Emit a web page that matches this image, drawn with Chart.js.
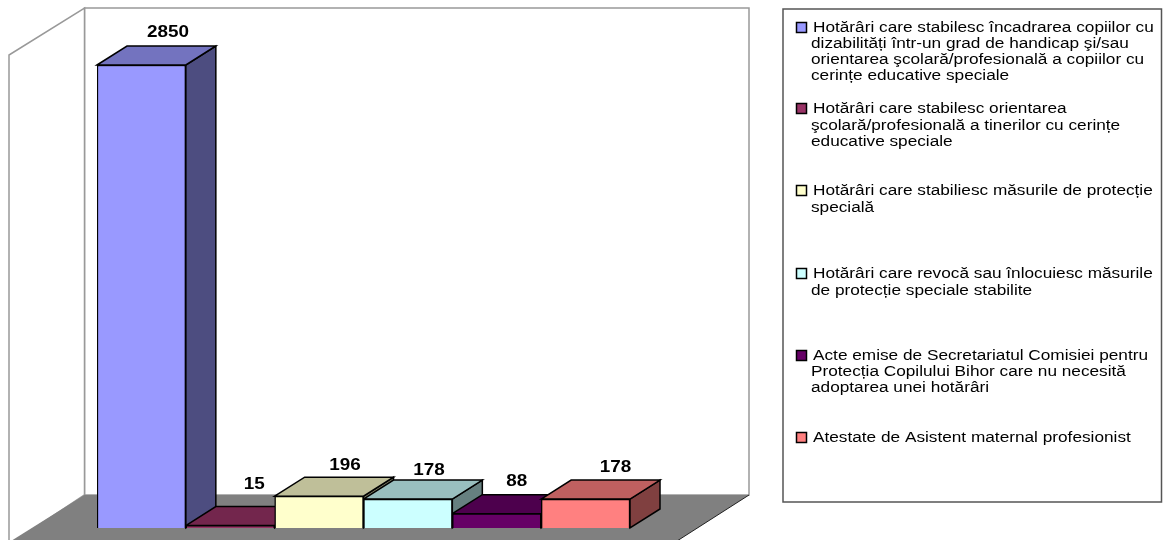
<!DOCTYPE html>
<html><head><meta charset="utf-8">
<style>html,body{margin:0;padding:0;background:#fff}#w{position:relative;width:1166px;height:540px}canvas{display:block}</style>
<script src="https://cdn.jsdelivr.net/npm/chart.js@4"></script>
</head><body><div id="w"><canvas id="c" width="1166" height="540"></canvas></div>
<script>
const categories = [
 ["Hotărâri care stabilesc încadrarea copiilor cu","dizabilități într-un grad de handicap şi/sau","orientarea şcolară/profesională a copiilor cu","cerințe educative speciale"],
 ["Hotărâri care stabilesc orientarea","şcolară/profesională a tinerilor cu cerințe","educative speciale"],
 ["Hotărâri care stabiliesc măsurile de protecție","specială"],
 ["Hotărâri care revocă sau înlocuiesc măsurile","de protecție speciale stabilite"],
 ["Acte emise de Secretariatul Comisiei pentru","Protecția Copilului Bihor care nu necesită","adoptarea unei hotărâri"],
 ["Atestate de Asistent maternal profesionist"]
];
const values = [2850,15,196,178,88,178];
const frontColors = ["#9999FF","#993366","#FFFFCC","#CCFFFF","#660066","#FF8080"];
const topColors = ["#7373BF","#73264D","#BFBF99","#99BFBF","#4D004D","#BF6060"];
const sideColors = ["#4D4D80","#4D1A33","#808066","#668080","#330033","#804040"];
const legendBaselines = [[32,48,64,80],[113,130,146],[195,212],[278,295],[360,376,392],[442]];
const labelOffsetX = [26.6,24,26,21,20,30];
const labelOffsetY = [-28,-37,-26,-24,-28,-27];

function poly(ctx,pts,fill,stroke,lw){
  ctx.beginPath();pts.forEach((p,i)=>i?ctx.lineTo(p[0],p[1]):ctx.moveTo(p[0],p[1]));ctx.closePath();
  if(fill){ctx.fillStyle=fill;ctx.fill();}
  if(stroke){ctx.strokeStyle=stroke;ctx.lineWidth=lw||1;ctx.stroke();}
}
function stretched(ctx,s,x,y,k){
  ctx.save();ctx.translate(x,y);ctx.scale(k,1);ctx.fillText(s,0,0);ctx.restore();
}
const scene = {
  id:'scene',
  beforeDatasetsDraw(chart){
    const ctx=chart.ctx;ctx.save();
    poly(ctx,[[84.5,8],[749,8],[749,495],[84.5,495]],'#fff','#999',1.5);
    poly(ctx,[[84.5,8],[84.5,495],[9,545],[9,55]],'#fff','#999',1.5);
    poly(ctx,[[84.5,495],[749,495],[677,541],[11,541]],'#808080',null);
    ctx.beginPath();ctx.moveTo(749,495);ctx.lineTo(677,541);ctx.strokeStyle='#222';ctx.lineWidth=1;ctx.stroke();
    const DX=30,DY=-19;
    chart.getDatasetMeta(0).data.forEach((b,i)=>{
      const l=b.x-b.width/2,r=b.x+b.width/2,t=b.y,bo=b.base;
      poly(ctx,[[r,t],[r+DX,t+DY],[r+DX,bo+DY],[r,bo]],sideColors[i],'#000',1.5);
      poly(ctx,[[l,t],[l+DX,t+DY],[r+DX,t+DY],[r,t]],topColors[i],'#000',1.5);
    });
    ctx.restore();
  },
  afterDatasetsDraw(chart){
    const ctx=chart.ctx;ctx.save();
    ctx.font='bold 16px "Liberation Sans"';ctx.textAlign='center';ctx.textBaseline='alphabetic';
    ctx.fillStyle='#000';
    chart.getDatasetMeta(0).data.forEach((b,i)=>{
      stretched(ctx,String(values[i]),b.x+labelOffsetX[i],b.y+labelOffsetY[i],1.18);
    });
    poly(ctx,[[783,9],[1161.5,9],[1161.5,502],[783,502]],'#fff','#555',1.5);
    ctx.font='14px "Liberation Sans"';ctx.textAlign='left';
    categories.forEach((lines,i)=>{
      const b0=legendBaselines[i][0];
      poly(ctx,[[796.5,b0-9.5],[806.5,b0-9.5],[806.5,b0+0.5],[796.5,b0+0.5]],frontColors[i],'#000',1.5);
      ctx.fillStyle='#000';
      lines.forEach((s,j)=>stretched(ctx,s,j?811:813,legendBaselines[i][j],1.23));
    });
    ctx.restore();
  }
};
new Chart(document.getElementById('c'),{
  type:'bar',
  data:{labels:categories.map(l=>l.join(' ')),datasets:[{data:values,backgroundColor:frontColors,borderColor:'#000',borderWidth:1.5,barPercentage:1,categoryPercentage:1}]},
  options:{responsive:false,animation:false,
    layout:{padding:{left:97,right:536,top:65,bottom:12}},
    plugins:{legend:{display:false},tooltip:{enabled:false}},
    scales:{x:{display:false},y:{display:false,min:0,max:2850}}
  },
  plugins:[scene]
});
</script></body></html>
